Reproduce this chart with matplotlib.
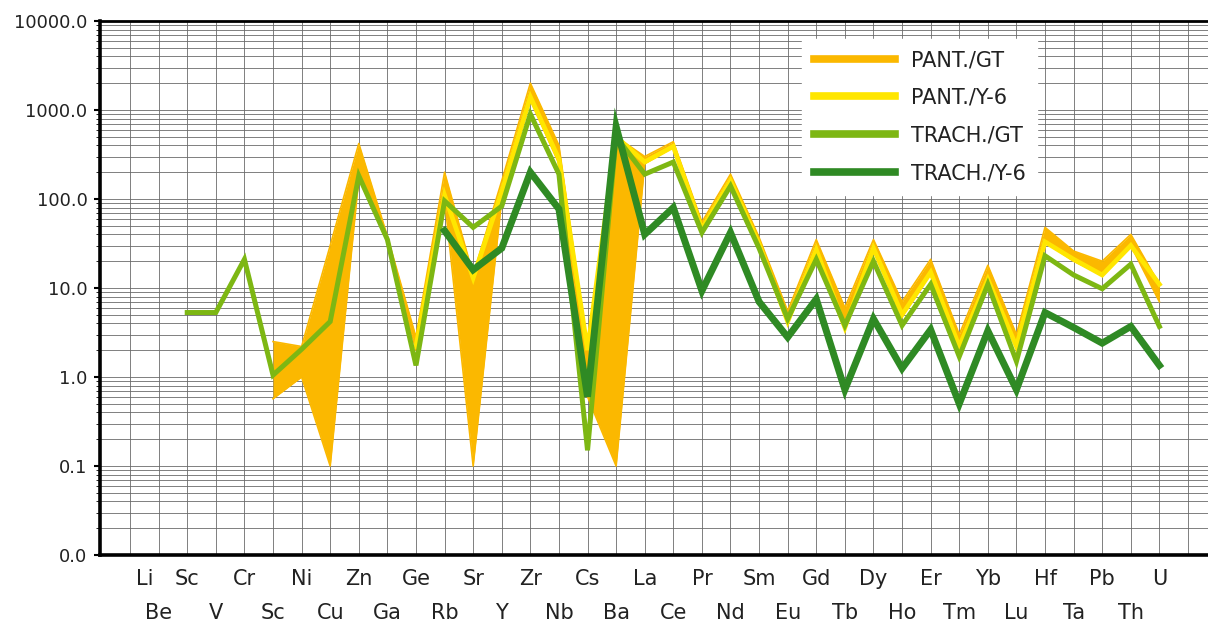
import matplotlib
matplotlib.use("Agg")
import matplotlib.pyplot as plt
import numpy as np
from matplotlib.ticker import FixedLocator, FuncFormatter, NullFormatter
from matplotlib.lines import Line2D

nan = np.nan
elements = ["Li", "Be", "Sc", "V", "Cr", "Sc", "Ni", "Cu", "Zn", "Ga", "Ge", "Rb",
            "Sr", "Y", "Zr", "Nb", "Cs", "Ba", "La", "Ce", "Pr", "Nd", "Sm", "Eu",
            "Gd", "Tb", "Dy", "Ho", "Er", "Tm", "Yb", "Lu", "Hf", "Ta", "Pb", "Th", "U"]

# orange band (PANT./GT), low and high edge
pant_gt_lo = [nan, nan, nan, nan, nan, 0.57, 1.0, 0.1, 170, 33, 2.0, 100,
              0.1, 100, 1300, 250, 0.6, 0.1, 250, 380, 45, 160, 30, 4.2,
              27, 3.7, 28, 5.0, 15, 2.2, 13, 2.2, 33, 20, 14, 30, 7]
pant_gt_hi = [nan, nan, nan, nan, nan, 2.5, 2.2, 30, 420, 38, 2.8, 200,
              14, 160, 2000, 400, 2.0, 500, 300, 440, 55, 190, 37, 5.5,
              35, 6.0, 35, 7.0, 21, 3.0, 18, 3.0, 48, 26, 20, 40, 11]
pant_y6 = [nan, nan, nan, nan, nan, nan, nan, nan, nan, nan, 2.2, 110,
           13, 120, 1400, 280, 2.0, 500, 260, 390, 46, 160, 31, 4.2,
           27, 3.6, 28, 5.0, 15, 2.2, 12.5, 2.2, 33, 21, 14, 30, 11]
trach_gt = [nan, nan, 5.3, 5.3, 21, 1.05, 2.05, 4.2, 182, 35, 1.35, 95,
            48, 83, 900, 190, 0.15, 500, 190, 260, 42, 140, 28, 4.5,
            21, 3.8, 20, 3.8, 11, 1.7, 11, 1.5, 23, 14, 9.8, 18.5, 3.7]
trach_y6 = [nan, nan, nan, nan, nan, nan, nan, nan, nan, nan, nan, 44,
            16, 28, 200, 77, 0.6, 650, 40, 80, 9.3, 42, 7.0, 2.8,
            7.5, 0.72, 4.5, 1.25, 3.4, 0.5, 3.3, 0.72, 5.3, 3.6, 2.4, 3.7, 1.35]

y_major = [0.01, 0.1, 1, 10, 100, 1000, 10000]

c_orange = "#FBB800"
c_yellow = "#FFE600"
c_lgreen = "#7DB713"
c_dgreen = "#2F8A24"

x = np.arange(len(elements))

fig = plt.figure(figsize=(12.08, 6.26), dpi=100)
ax = fig.add_axes([0.0828, 0.1134, 0.9172, 0.8531])
ax.set_yscale("log")
ax.set_ylim(0.01, 10000)
ax.set_xlim(-1.05, 37.7)

lo = np.array(pant_gt_lo, dtype=float)
hi = np.array(pant_gt_hi, dtype=float)
ax.fill_between(x, lo, hi, color=c_orange, lw=0, zorder=2)
ax.plot(x, hi, color=c_orange, lw=1.2, zorder=2)
ax.plot(x, lo, color=c_orange, lw=1.2, zorder=2)
ax.plot(x, pant_y6, color=c_yellow, lw=3.4, zorder=3, solid_joinstyle="miter")
ax.plot(x, trach_gt, color=c_lgreen, lw=3.6, zorder=4, solid_joinstyle="miter")
ax.plot(x, trach_y6, color=c_dgreen, lw=5, zorder=5, solid_joinstyle="miter")

# grid
ax.xaxis.set_major_locator(FixedLocator(np.arange(0, 38)))
ax.xaxis.set_major_formatter(NullFormatter())
ax.tick_params(axis="x", length=0, labelbottom=False)
y_minor = [m * d for d in y_major[:-1] for m in range(2, 10)]
ax.yaxis.set_major_locator(FixedLocator(y_major))
ax.yaxis.set_minor_locator(FixedLocator(y_minor))
ax.grid(True, axis="x", color="#6a6a6a", lw=0.6)
ax.grid(True, axis="y", which="both", color="#6a6a6a", lw=0.6)
ax.yaxis.set_major_formatter(FuncFormatter(lambda v, p: f"{v:.1f}"))
ax.yaxis.set_minor_formatter(NullFormatter())
ax.tick_params(axis="y", which="major", length=4, width=1.5, labelsize=13,
               labelcolor="#222222", pad=5)
ax.tick_params(axis="y", which="minor", length=3, width=0.6)
ax.set_axisbelow(True)

for s in ["left", "bottom"]:
    ax.spines[s].set_linewidth(2.6)
ax.spines["top"].set_linewidth(2)
ax.spines["right"].set_visible(False)

# two-row element labels
for i, name in enumerate(elements):
    yy = -0.045 if i % 2 == 0 else -0.108
    xx = i + (0.5 if i == 0 else 0)
    ax.text(xx, yy, name, transform=ax.get_xaxis_transform(), ha="center",
            va="center", fontsize=15, color="#222222")

handles = [Line2D([], [], color=c, lw=5.5) for c in [c_orange, c_yellow, c_lgreen, c_dgreen]]
leg = ax.legend(handles, ["PANT./GT", "PANT./Y-6", "TRACH./GT", "TRACH./Y-6"],
                loc="upper left", bbox_to_anchor=(0.634, 0.967), borderaxespad=0,
                fontsize=15, handlelength=3.9, handletextpad=0.75, labelspacing=0.85,
                frameon=True, fancybox=False, framealpha=1, edgecolor="white",
                borderpad=0.55)
leg.set_zorder(10)
for t in leg.get_texts():
    t.set_color("#222222")

fig.savefig("out.png", dpi=100)
